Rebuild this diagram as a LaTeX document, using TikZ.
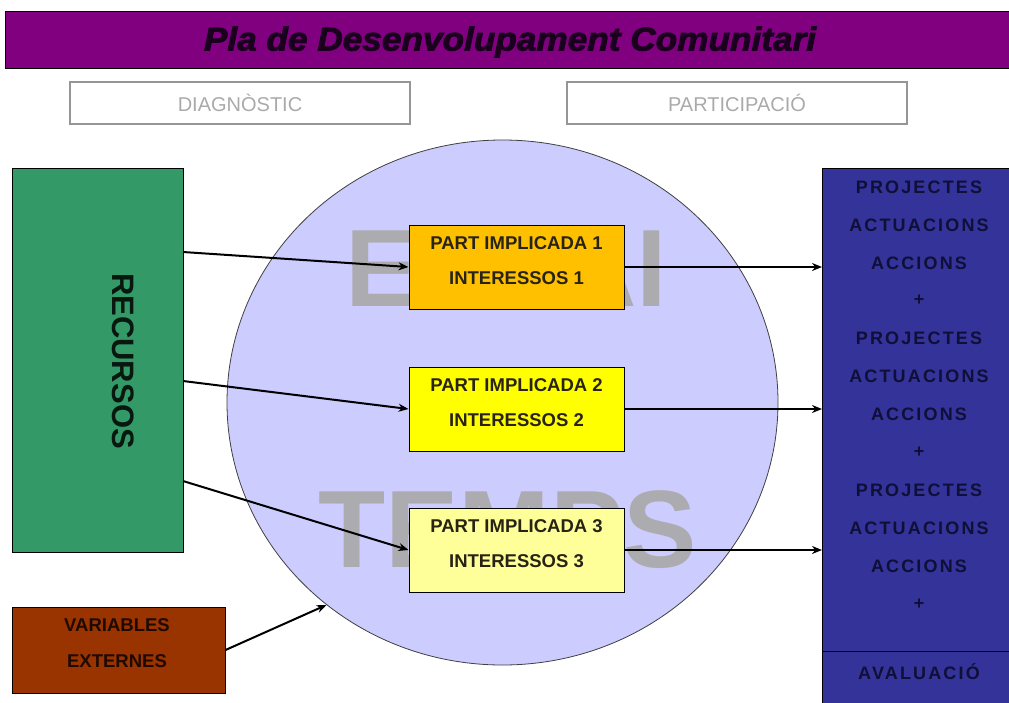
\documentclass[tikz,border=0pt]{standalone}
\usepackage{fontspec}
\setmainfont{Liberation Sans}
\newfontfamily\spacedfont[LetterSpace=12]{Liberation Sans}
\newfontfamily\titlefont{Liberation Sans Bold Italic}[FakeBold=2.5]
\usetikzlibrary{shapes.geometric,arrows.meta}
\definecolor{titlebar}{RGB}{128,0,128}
\definecolor{titletext}{RGB}{26,0,30}
\definecolor{lightbox}{RGB}{170,170,170}
\definecolor{lightborder}{RGB}{150,150,150}
\definecolor{lavender}{RGB}{204,204,255}
\definecolor{watermark}{RGB}{172,172,176}
\definecolor{orangebox}{RGB}{255,192,0}
\definecolor{yellowbox}{RGB}{255,255,0}
\definecolor{paleyellow}{RGB}{255,255,153}
\definecolor{greenbox}{RGB}{51,153,102}
\definecolor{brownbox}{RGB}{153,51,0}
\definecolor{bluebox}{RGB}{51,51,153}
\definecolor{darktext}{RGB}{40,35,20}
\definecolor{navytext}{RGB}{15,15,55}
\begin{document}
\begin{tikzpicture}[x=1pt,y=-1pt,
  topbox/.style={draw=lightborder,line width=1.2pt,fill=white,minimum width=340pt,minimum height=42pt,inner sep=0pt,
    text=lightbox,font=\fontsize{20}{20}\selectfont},
  partbox/.style={draw=black,line width=1pt,minimum width=215pt,minimum height=84pt,inner sep=0pt,fill=#1},
  parttext/.style={text=darktext,font=\fontsize{18.5}{18.5}\selectfont\bfseries,inner sep=0pt},
  wm/.style={text=watermark,font=\fontsize{110}{110}\selectfont\bfseries,anchor=base west,inner sep=0pt},
  rtext/.style={text=navytext,font=\fontsize{18}{18}\selectfont\bfseries\spacedfont,inner sep=0pt},
  arr/.style={line width=2pt,-{Stealth[length=10pt,width=8pt]}}]
\useasboundingbox[fill=white] (0,0) rectangle (1009,702);
% title
\node[draw=black,line width=1pt,fill=titlebar,minimum width=1010pt,minimum height=57pt,inner sep=0pt] (title) at (510,39.5) {};
\node[text=titletext,inner sep=0pt] (titletxt) at (510,42) {\resizebox{612pt}{24pt}{\titlefont Pla de Desenvolupament Comunitari}};
% top boxes
\node[topbox] (diag) at (240,103) {DIAGNÒSTIC};
\node[topbox] (part) at (737,103) {PARTICIPACIÓ};
% circle
\node[ellipse,draw=black!75,line width=0.8pt,fill=lavender,minimum width=551pt,minimum height=525pt,inner sep=0pt] (circ) at (502.5,402.5) {};
\node[wm] (espai) at (345,306) {ESPAI};
\node[wm] (temps) at (318,567) {TEMPS};
% part boxes
\node[partbox=orangebox] (b1) at (516.5,267) {};
\node[partbox=yellowbox] (b2) at (516.5,409) {};
\node[partbox=paleyellow] (b3) at (516.5,550) {};
\node[parttext] (b1a) at (516.5,243) {PART IMPLICADA 1};
\node[parttext] (b1b) at (516.5,278) {INTERESSOS 1};
\node[parttext] (b2a) at (516.5,385) {PART IMPLICADA 2};
\node[parttext] (b2b) at (516.5,420) {INTERESSOS 2};
\node[parttext] (b3a) at (516.5,526) {PART IMPLICADA 3};
\node[parttext] (b3b) at (516.5,561) {INTERESSOS 3};
% recursos
\node[draw=black,line width=1pt,fill=greenbox,minimum width=171pt,minimum height=384pt,inner sep=0pt] (rec) at (97.5,360) {};
\node[rotate=-90,text=black!85!greenbox,font=\fontsize{31}{31}\selectfont\bfseries,inner sep=0pt] (rectxt) at (123,361) {RECURSOS};
% variables externes
\node[draw=black,line width=1pt,fill=brownbox,minimum width=213pt,minimum height=86pt,inner sep=0pt] (var) at (118.5,650) {};
\node[text=black!80!brownbox,font=\fontsize{18.5}{18.5}\selectfont\bfseries,inner sep=0pt] (var1) at (117,625) {VARIABLES};
\node[text=black!80!brownbox,font=\fontsize{18.5}{18.5}\selectfont\bfseries,inner sep=0pt] (var2) at (117,661) {EXTERNES};
% right box
\node[draw=black,line width=1pt,fill=bluebox,minimum width=190pt,minimum height=537pt,inner sep=0pt,anchor=north west] (rb) at (822,168) {};
\coordinate (sepL) at (822,651);
\coordinate (sepR) at (1012,651);
\draw[line width=1pt,black] (sepL) -- (sepR);
\foreach \t [count=\i from 0] in {PROJECTES,ACTUACIONS,ACCIONS,+,PROJECTES,ACTUACIONS,ACCIONS,+,PROJECTES,ACTUACIONS,ACCIONS,+}{
  \node[rtext] (r\i) at (919,{187+37.9*\i}) {\t};
}
\node[rtext] (aval) at (919,672) {AVALUACIÓ};
% arrows
\coordinate (s1) at (183,252);
\coordinate (s2) at (183,381);
\coordinate (s3) at (183,481);
\draw[arr] (s1) -- (b1.west);
\draw[arr] (s2) -- (b2.west);
\draw[arr] (s3) -- (b3.west);
\draw[arr] (b1.east) -- (b1.east -| rb.west);
\draw[arr] (b2.east) -- (b2.east -| rb.west);
\draw[arr] (b3.east) -- (b3.east -| rb.west);
\draw[arr] (var.east) -- (circ.229);
\end{tikzpicture}
\end{document}
